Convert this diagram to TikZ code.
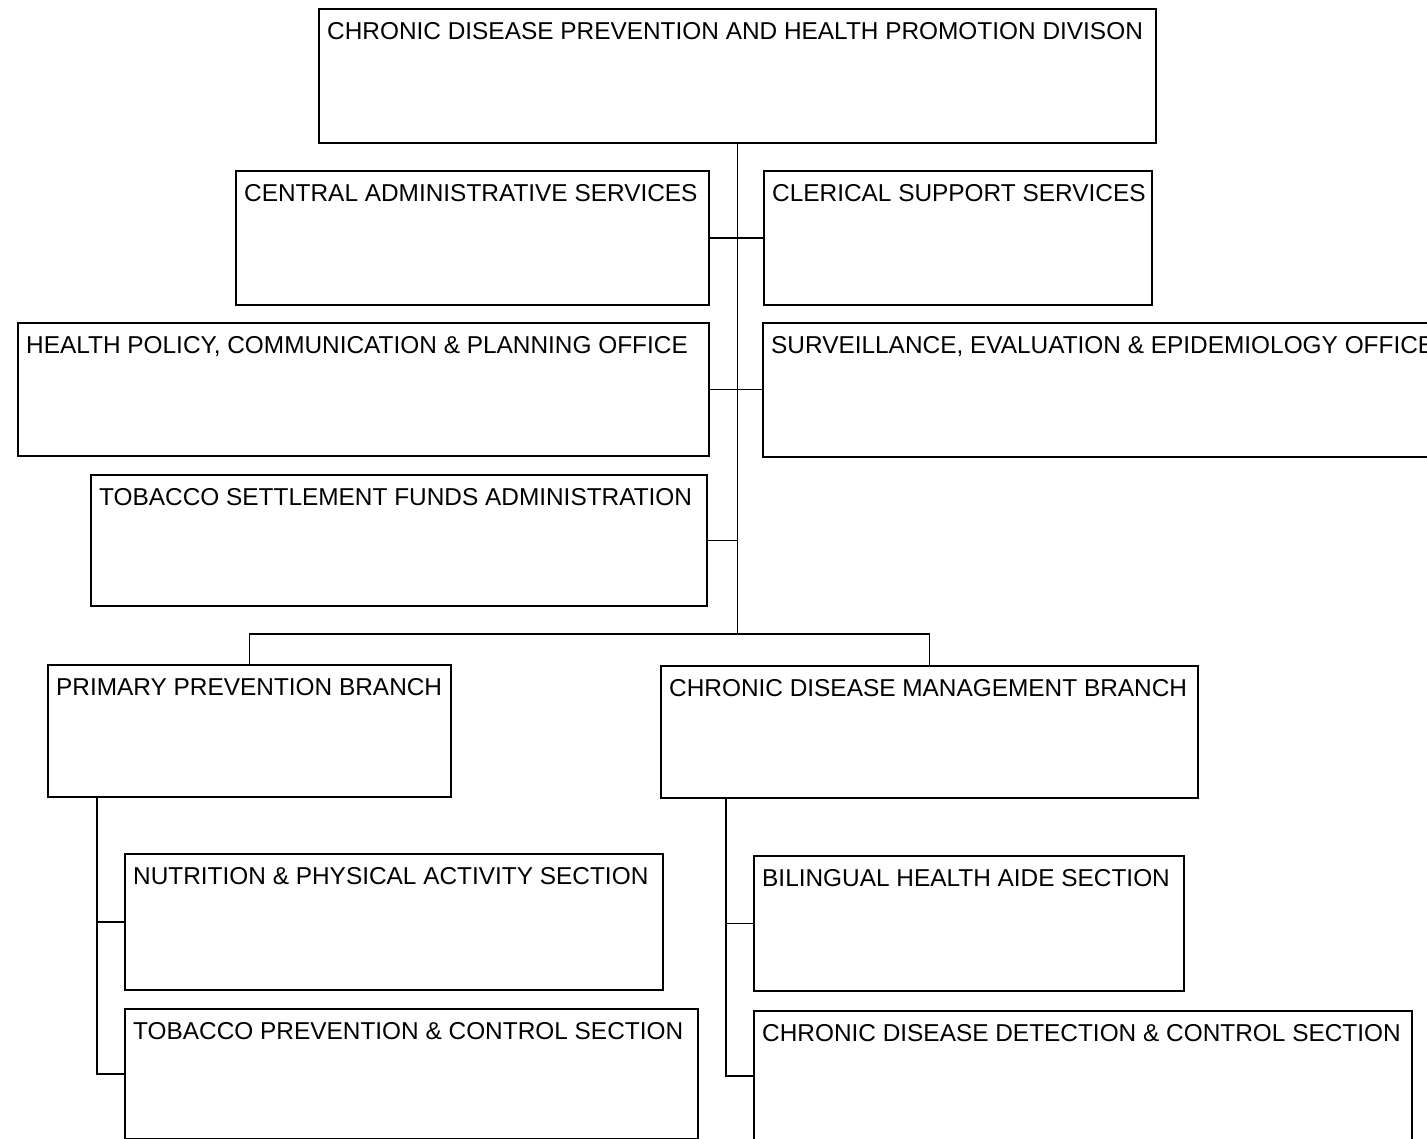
\documentclass[tikz,border=0pt]{standalone}
\usepackage{fontspec}
\setmainfont{Liberation Sans}

\tikzset{
	unit/.style 2 args={draw, line width=2pt, anchor=north west, inner sep=0pt, minimum width=#1, minimum height=#2},
	ttl/.style={anchor=north west, inner sep=0pt, xshift=9pt, yshift=-14pt, font=\fontsize{24.4}{28}\selectfont},
	link/.style={line width=1.8pt}
}

\begin{document}
\begin{tikzpicture}[x=1pt, y=-1pt]
		\useasboundingbox (0,0) rectangle (1427,1139);
		\clip (0,0) rectangle (1427,1139);
		\node[unit={837pt}{134pt}, label={[ttl]north west:CHRONIC DISEASE PREVENTION AND HEALTH PROMOTION DIVISON}] (div) at (318,8) {};
		\node[unit={473pt}{134pt}, label={[ttl]north west:CENTRAL ADMINISTRATIVE SERVICES}] (cas) at (235,170) {};
		\node[unit={388pt}{134pt}, label={[ttl]north west:CLERICAL SUPPORT SERVICES}] (css) at (763,170) {};
		\node[unit={691pt}{133pt}, label={[ttl]north west:HEALTH POLICY, COMMUNICATION \& PLANNING OFFICE}] (hpc) at (17,322) {};
		\node[unit={700pt}{134pt}, label={[ttl]north west:SURVEILLANCE, EVALUATION \& EPIDEMIOLOGY OFFICE}] (sev) at (762,322) {};
		\node[unit={616pt}{131pt}, label={[ttl]north west:TOBACCO SETTLEMENT FUNDS ADMINISTRATION}] (tsf) at (90,474) {};
		\node[unit={403pt}{132pt}, label={[ttl]north west:PRIMARY PREVENTION BRANCH}] (ppb) at (47,664) {};
		\node[unit={537pt}{132pt}, label={[ttl]north west:CHRONIC DISEASE MANAGEMENT BRANCH}] (cdm) at (660,665) {};
		\node[unit={538pt}{136pt}, label={[ttl]north west:NUTRITION \& PHYSICAL ACTIVITY SECTION}] (npa) at (124,853) {};
		\node[unit={573pt}{130pt}, label={[ttl]north west:TOBACCO PREVENTION \& CONTROL SECTION}] (tpc) at (124,1008) {};
		\node[unit={430pt}{135pt}, label={[ttl]north west:BILINGUAL HEALTH AIDE SECTION}] (bha) at (753,855) {};
		\node[unit={658pt}{130pt}, label={[ttl]north west:CHRONIC DISEASE DETECTION \& CONTROL SECTION}] (cdd) at (753,1010) {};
		\coordinate (fork) at ([yshift=30pt]div.south |- ppb.north);
		\draw[link] (div.south) -- (fork);
		\draw[link] (ppb.north) |- (fork) -| (cdm.north);
		\draw[link] (cas.east) -- (css.west);
		\draw[link] (hpc.east) -- (hpc.east -| sev.west);
		\draw[link] (tsf.east) -- (tsf.east -| fork);
		\draw[link] ([xshift=50pt]ppb.south west) |- (tpc.west);
		\draw[link] (npa.west) -| ([xshift=50pt]ppb.south west);
		\draw[link] ([xshift=66pt]cdm.south west) |- (cdd.west);
		\draw[link] (bha.west) -| ([xshift=66pt]cdm.south west);
	\end{tikzpicture}
\end{document}
